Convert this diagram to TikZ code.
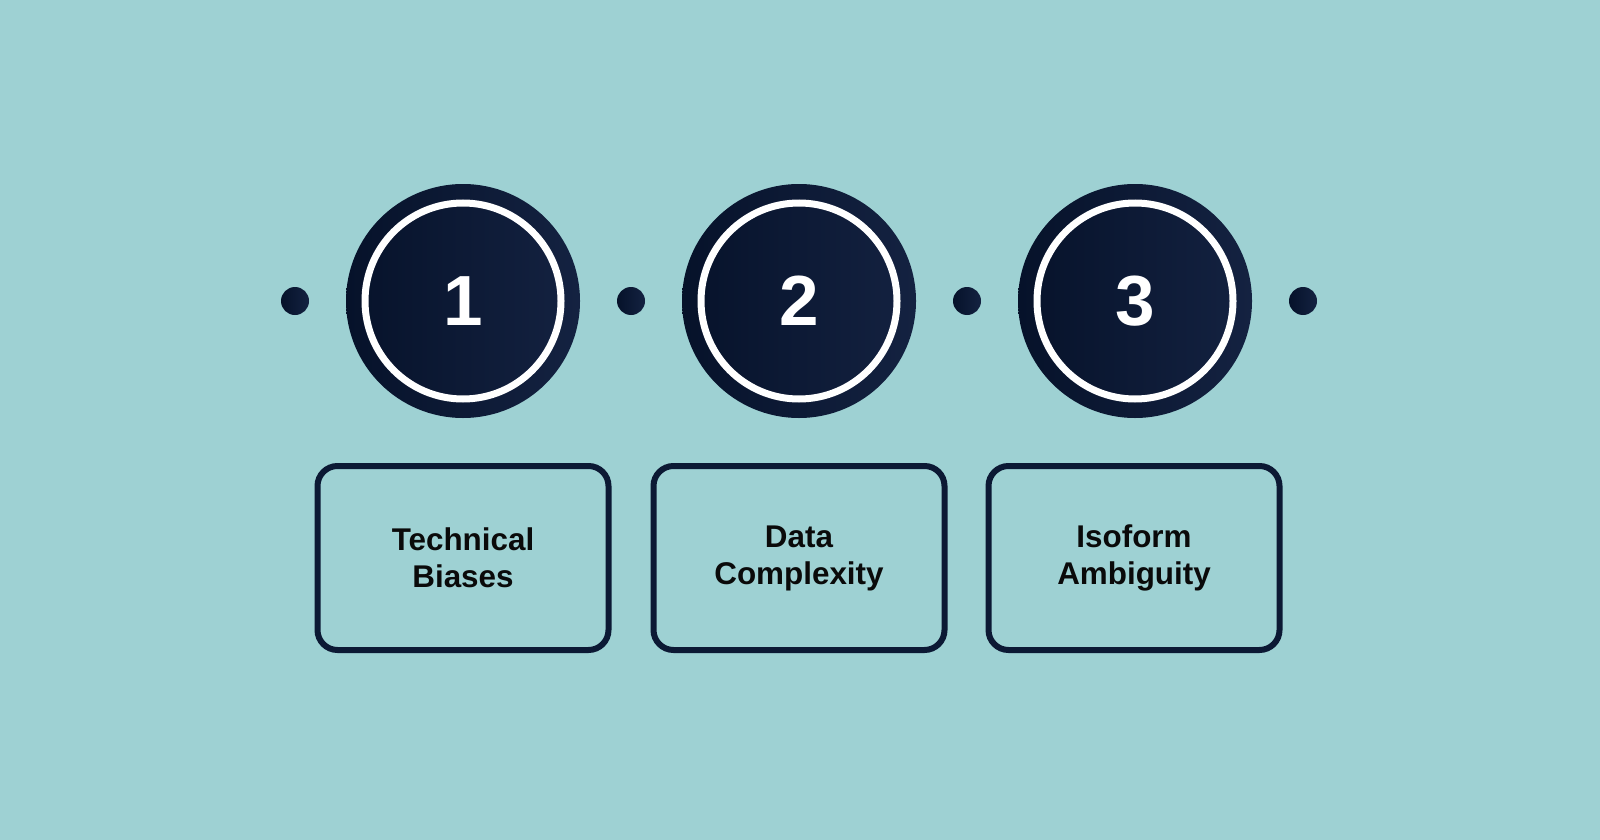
\documentclass[tikz,border=0pt]{standalone}
\usepackage{fontspec}
\setmainfont{Liberation Sans}
\definecolor{bg}{HTML}{9ED1D3}
\definecolor{navyL}{HTML}{06122A}
\definecolor{navyR}{HTML}{142241}
\definecolor{navyB}{HTML}{0C1934}
\definecolor{txt}{HTML}{0A0A0A}
\tikzset{
  bigcirc/.style={circle, minimum size=117pt, inner sep=0pt, left color=navyL, right color=navyR, draw=none},
  ringc/.style={circle, minimum size=98pt, inner sep=0pt, draw=white, line width=3.5pt, text=white, font=\bfseries\fontsize{35.5}{40}\selectfont},
  dotc/.style={circle, minimum size=14pt, inner sep=0pt, left color=navyL, right color=navyR, draw=none},
  labelbox/.style={rectangle, rounded corners=10pt, minimum width=145.5pt, minimum height=92pt, inner sep=0pt, draw=navyB, line width=3pt, align=center, text=txt, font=\bfseries\fontsize{15.7}{18.5}\selectfont}
}
\begin{document}
\begin{tikzpicture}[x=0.5pt,y=-0.5pt]
\fill[bg] (0,0) rectangle (1600,840);
\useasboundingbox (0,0) rectangle (1600,840);
\node[dotc] (d0) at (295,301) {};
\node[dotc] (d1) at (631,301) {};
\node[dotc] (d2) at (967,301) {};
\node[dotc] (d3) at (1303,301) {};
\node[bigcirc] (c1) at (463,301) {};
\node[bigcirc] (c2) at (799,301) {};
\node[bigcirc] (c3) at (1135,301) {};
\node[ringc] (r1) at (c1) {1};
\node[ringc] (r2) at (c2) {2};
\node[ringc] (r3) at (c3) {3};
\node[labelbox] (b1) at (463,558) {Technical\\Biases};
\node[labelbox] (b2) at (799,558) {Data\\Complexity};
\node[labelbox] (b3) at (1134,558) {Isoform\\Ambiguity};
\end{tikzpicture}
\end{document}
